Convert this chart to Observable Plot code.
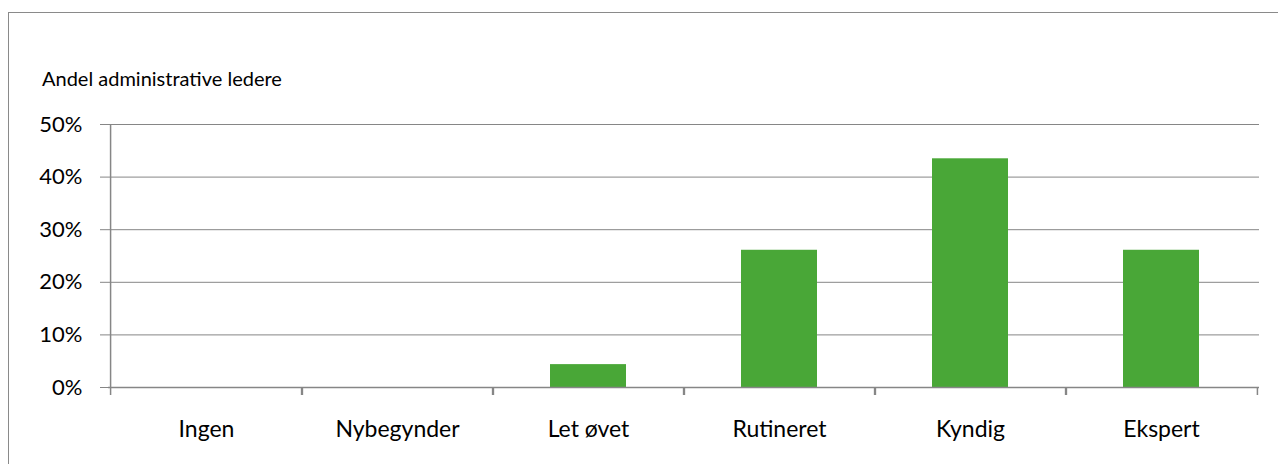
<!DOCTYPE html>
<html><head><meta charset="utf-8">
<script src="https://cdn.jsdelivr.net/npm/d3@7"></script>
<script src="https://cdn.jsdelivr.net/npm/@observablehq/plot@0.6"></script>
<style>
body{margin:0;background:#fff;}
#wrap{position:relative;width:1278px;height:464px;overflow:hidden;font-family:Lato,sans-serif;color:#000;}
#border{position:absolute;left:8px;top:12px;width:1300px;height:500px;border:1.5px solid #8a8a8a;box-sizing:border-box;pointer-events:none}
#head{position:relative;height:100px;}
#title{position:absolute;left:42px;top:68px;font-size:20px;line-height:1;white-space:nowrap;}
#chart svg{display:block;}
</style></head><body>
<div id="wrap"><div id="border"></div>
<div id="head"><div id="title">Andel administrative ledere</div></div>
<div id="chart"></div></div>
<script>
const categories = ["Ingen", "Nybegynder", "Let øvet", "Rutineret", "Kyndig", "Ekspert"];
const shares = [0, 0, 0.0435, 0.2609, 0.4348, 0.2609];
const yTicks = [0, 0.1, 0.2, 0.3, 0.4, 0.5];

const data = categories.map((c, i) => ({cat: c, share: shares[i]}));
const W = 1278, H = 364, mL = 108, mR = 19, mT = 24, mB = 77;
const step = (W - mL - mR) / categories.length;
const gray = "#868686";

const chart = Plot.plot({
  width: W, height: H,
  marginLeft: mL, marginRight: mR, marginTop: mT, marginBottom: mB,
  style: {fontFamily: "Lato, sans-serif", color: "#000", background: "transparent"},
  x: {domain: categories, paddingInner: 0.6, paddingOuter: 0.3, axis: null, label: null},
  y: {domain: [0, 0.5], axis: null, label: null},
  marks: [
    Plot.gridY(yTicks, {stroke: gray, strokeOpacity: 1}),
    Plot.barY(data, {x: "cat", y: "share", fill: "#49a737"}),
    Plot.ruleY([0], {stroke: gray, strokeWidth: 1.5}),
    Plot.ruleX([categories[0]], {dx: -step / 2, stroke: gray, strokeWidth: 1.5}),
    Plot.axisY(yTicks, {tickFormat: d3.format(".0%"), tickSize: 8, tickPadding: 18, fontSize: 22, stroke: gray, fill: "#000", label: null}),
    Plot.axisX({tickSize: 0, tickPadding: 33, fontSize: 23, fill: "#000", label: null}),
    Plot.axisX({tickSize: 8, dx: -step / 2, stroke: gray, strokeWidth: 1.5, fill: "none", label: null}),
    Plot.axisX({tickSize: 8, dx: step / 2, stroke: gray, strokeWidth: 1.5, fill: "none", label: null})
  ]
});
document.getElementById("chart").appendChild(chart);
</script>
</body></html>
